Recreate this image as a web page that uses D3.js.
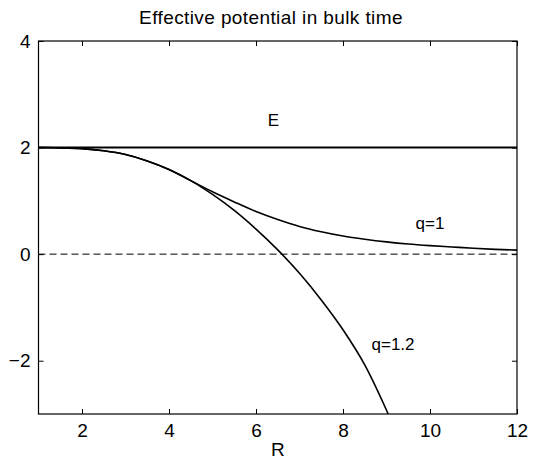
<!DOCTYPE html>
<html>
<head>
<meta charset="utf-8">
<script src="https://cdn.jsdelivr.net/npm/d3@7"></script>
<style>
  body { margin: 0; background: #fff; }
  text { font-family: "Liberation Sans", Arial, Helvetica, sans-serif; fill: #000; }
</style>
</head>
<body>
<div id="vis"></div>
<script>
const W = 540, H = 462;
const margin = { top: 41, right: 23, bottom: 48, left: 38.5 };
const width = W - margin.left - margin.right;
const height = H - margin.top - margin.bottom;

// data
const R = [1, 1.5, 2, 2.5, 3, 3.5, 4, 4.5, 5, 5.5, 6, 6.5, 7, 7.5, 8, 8.5, 9, 9.5, 10, 10.5, 11, 11.5, 12];
const V_q1 = [2.0, 1.995, 1.98, 1.94, 1.87, 1.75, 1.59, 1.38, 1.17, 0.98, 0.80, 0.65, 0.52, 0.42, 0.34, 0.28, 0.23, 0.19, 0.16, 0.135, 0.11, 0.09, 0.075];
const R_q12 = [1, 1.5, 2, 2.5, 3, 3.5, 4, 4.5, 5, 5.5, 6, 6.5, 7, 7.5, 8, 8.5, 9, 9.2];
const V_q12 = [2.0, 1.995, 1.98, 1.94, 1.87, 1.75, 1.59, 1.38, 1.12, 0.82, 0.47, 0.08, -0.36, -0.86, -1.42, -2.08, -2.93, -3.3];
const E = 2;
const xTicks = [2, 4, 6, 8, 10, 12];
const yTicks = [-2, 0, 2, 4];
const labels = [
  { text: "E", x: 6.4, y: 2.4 },
  { text: "q=1", x: 10.0, y: 0.48 },
  { text: "q=1.2", x: 9.15, y: -1.8 }
];

const svg = d3.select("#vis").append("svg")
  .attr("width", W).attr("height", H);
const g = svg.append("g").attr("transform", `translate(${margin.left},${margin.top})`);

const x = d3.scaleLinear().domain([1, 12]).range([0, width]);
const y = d3.scaleLinear().domain([-3, 4]).range([height, 0]);

svg.append("defs").append("clipPath").attr("id", "plot")
  .append("rect").attr("width", width).attr("height", height);

const plot = g.append("g").attr("clip-path", "url(#plot)");

// zero reference line
plot.append("line")
  .attr("x1", x(1)).attr("x2", x(12))
  .attr("y1", y(0)).attr("y2", y(0))
  .attr("stroke", "#000").attr("stroke-width", 1)
  .attr("stroke-dasharray", "7,4");

// energy line
plot.append("line")
  .attr("x1", x(1)).attr("x2", x(12))
  .attr("y1", y(E)).attr("y2", y(E))
  .attr("stroke", "#000").attr("stroke-width", 2);

const line = d3.line().curve(d3.curveMonotoneX);

plot.append("path")
  .attr("d", line(R.map((r, i) => [x(r), y(V_q1[i])])))
  .attr("fill", "none").attr("stroke", "#000").attr("stroke-width", 1.6);

plot.append("path")
  .attr("d", line(R_q12.map((r, i) => [x(r), y(V_q12[i])])))
  .attr("fill", "none").attr("stroke", "#000").attr("stroke-width", 1.6);

// box and axes, ticks inward like matlab
const tick = 5;
g.append("g").attr("transform", `translate(0,${height})`)
  .call(d3.axisBottom(x).tickValues(xTicks).tickSizeInner(-tick).tickSizeOuter(0).tickPadding(10))
  .call(a => a.select(".domain").remove());
g.append("g")
  .call(d3.axisTop(x).tickValues(xTicks).tickSizeInner(-tick).tickSizeOuter(0).tickFormat(""))
  .call(a => a.select(".domain").remove());
g.append("g")
  .call(d3.axisLeft(y).tickValues(yTicks).tickSizeInner(-tick).tickSizeOuter(0).tickPadding(8)
    .tickFormat(d => d < 0 ? "\u2212" + Math.abs(d) : d))
  .call(a => a.select(".domain").remove());
g.append("g").attr("transform", `translate(${width},0)`)
  .call(d3.axisRight(y).tickValues(yTicks).tickSizeInner(-tick).tickSizeOuter(0).tickFormat(""))
  .call(a => a.select(".domain").remove());

g.selectAll(".tick line").attr("stroke", "#000").attr("stroke-width", 1);
g.selectAll(".tick text").style("font-size", "19px").attr("fill", "#000");

g.append("rect")
  .attr("width", width).attr("height", height)
  .attr("fill", "none").attr("stroke", "#000").attr("stroke-width", 1.2);

// curve labels
g.selectAll(".lbl").data(labels).join("text")
  .attr("class", "lbl")
  .attr("x", d => x(d.x)).attr("y", d => y(d.y))
  .attr("text-anchor", "middle")
  .style("font-size", "17px")
  .text(d => d.text);

// titles
svg.append("text")
  .attr("x", 271).attr("y", 24)
  .attr("text-anchor", "middle")
  .style("font-size", "19px")
  .style("letter-spacing", "0.4px")
  .text("Effective potential in bulk time");

svg.append("text")
  .attr("x", margin.left + width / 2).attr("y", 456)
  .attr("text-anchor", "middle")
  .style("font-size", "19px")
  .text("R");
</script>
</body>
</html>
